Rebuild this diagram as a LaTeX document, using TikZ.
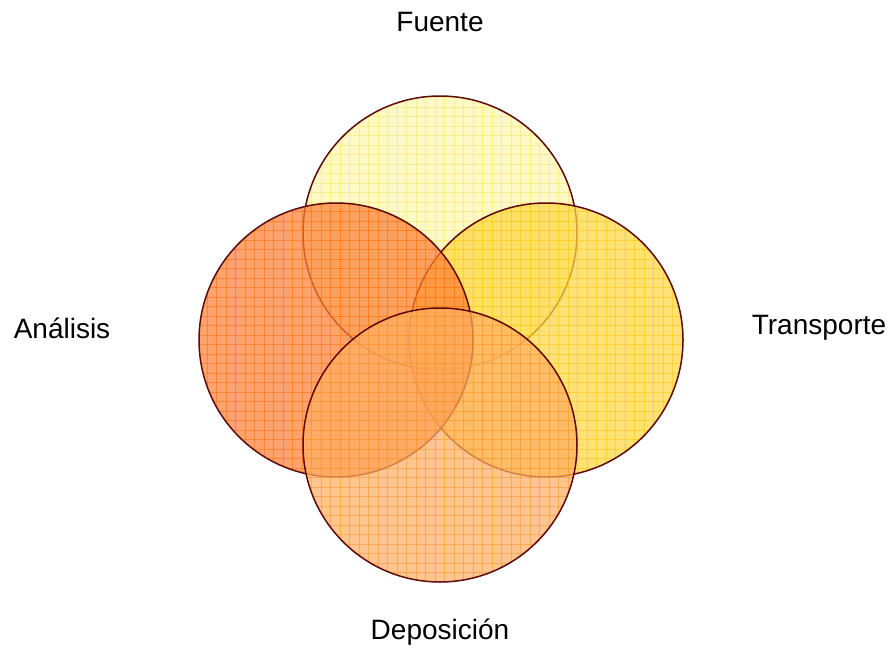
\documentclass[tikz,border=0pt]{standalone}
\usepackage{fontspec}
\setmainfont{Liberation Sans}
\definecolor{edge}{HTML}{5E0A0A}
\definecolor{ctop}{HTML}{FFF6B0}
\definecolor{gtop}{HTML}{FFE45A}
\definecolor{cright}{HTML}{FFD741}
\definecolor{gright}{HTML}{FFC400}
\definecolor{cleft}{HTML}{FF8036}
\definecolor{gleft}{HTML}{FF6A00}
\definecolor{cbot}{HTML}{FFAE62}
\definecolor{gbot}{HTML}{FF9020}
\tikzset{
  lbl/.style={font=\fontsize{28}{33}\selectfont, text=black, inner sep=0pt},
  venn/.style={circle, minimum size=274pt, inner sep=0pt},
}
\newcommand{\venncircle}[4]{%
  \node[venn] (#1) at (#2) {};
  \fill[#3, fill opacity=0.72] (#1.center) circle[radius=137];
  \begin{scope}
    \clip (#1.center) circle[radius=137];
    \begin{scope}[#4, line width=1pt, opacity=0.5]
      \foreach \i in {0,...,63} {
        \draw (150+\i*9.5,50) -- (150+\i*9.5,650);
        \draw (150,50+\i*9.5) -- (750,50+\i*9.5);
      }
    \end{scope}
  \end{scope}
  \draw[edge, line width=1.5pt] (#1.center) circle[radius=137];
}
\begin{document}
\begin{tikzpicture}[x=1pt, y=-1pt]
\useasboundingbox (0,0) rectangle (891,648);
\venncircle{top}{440,233}{ctop}{gtop}
\venncircle{right}{546,340}{cright}{gright}
\venncircle{left}{336,340}{cleft}{gleft}
\venncircle{bot}{440,445}{cbot}{gbot}
\node[lbl] (fuente) at (440,22) {Fuente};
\node[lbl] (analisis) at (62,328) {Análisis};
\node[lbl] (transporte) at (819,328) {Transporte};
\node[lbl] (deposicion) at (440,632) {Deposición};
\end{tikzpicture}
\end{document}
